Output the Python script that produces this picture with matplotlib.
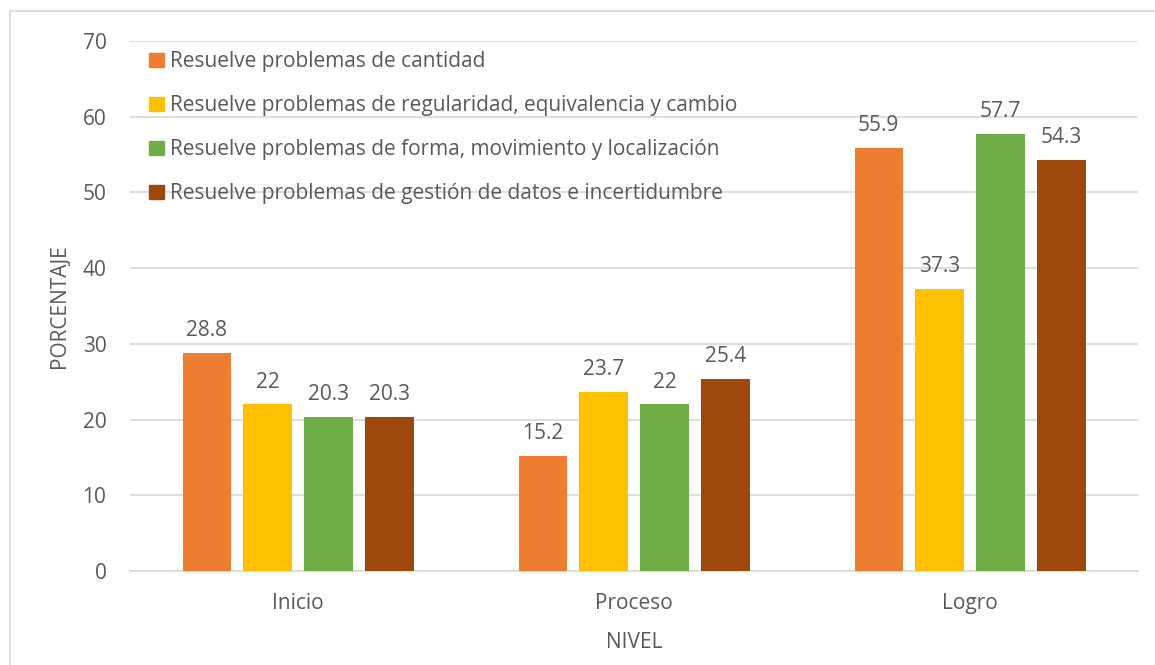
import matplotlib
matplotlib.use("Agg")
import matplotlib.pyplot as plt
from matplotlib.patches import Rectangle, Patch
import numpy as np

categories = ["Inicio", "Proceso", "Logro"]
series_names = [
    "Resuelve problemas de cantidad",
    "Resuelve problemas de regularidad, equivalencia y cambio",
    "Resuelve problemas de forma, movimiento y localización",
    "Resuelve problemas de gestión de datos e incertidumbre",
]
cantidad = [28.8, 15.2, 55.9]
regularidad = [22, 23.7, 37.3]
forma = [20.3, 22, 57.7]
gestion = [20.3, 25.4, 54.3]
series_values = [cantidad, regularidad, forma, gestion]
colors = ["#ED7D31", "#FFC000", "#70AD47", "#9E480E"]
yticks = [0, 10, 20, 30, 40, 50, 60, 70]

plt.rcParams['font.family'] = ['Open Sans', 'DejaVu Sans']
TXT = "#595959"
FS = 15

fig = plt.figure(figsize=(11.55, 6.65), dpi=100)
fig.patches.append(Rectangle((10/1155, -0.1), 1.2, 1 - 11/665 + 0.1,
                             transform=fig.transFigure, fill=False,
                             edgecolor="#D9D9D9", linewidth=1.2))
ax = fig.add_axes([130/1155, 1 - 571/665, 1008/1155, 530/665])

x = np.arange(len(categories))
step = 0.1815
width = 0.143
for i, (vals, c) in enumerate(zip(series_values, colors)):
    pos = x + (i - 1.5) * step
    bars = ax.bar(pos, vals, width=width, color=c, label=series_names[i], zorder=3)
    for b, v in zip(bars, vals):
        ax.annotate(f"{v:g}", (b.get_x() + b.get_width() / 2, v),
                    xytext=(0, 8.5), textcoords="offset points",
                    ha="center", va="bottom", fontsize=FS, color=TXT)

ax.set_xlim(-0.5, 2.5)
ax.set_ylim(0, 70)
ax.set_yticks(yticks)
ax.set_xticks(x)
ax.set_xticklabels(categories)
ax.tick_params(axis="both", length=0, labelsize=FS, colors=TXT)
ax.tick_params(axis="y", pad=17)
ax.tick_params(axis="x", pad=16)
ax.yaxis.grid(True, color="#D9D9D9", linewidth=1.2, zorder=0)
for s in ["top", "right", "left"]:
    ax.spines[s].set_visible(False)
ax.spines["bottom"].set_color("#D9D9D9")
ax.spines["bottom"].set_linewidth(1.2)
ax.set_axisbelow(True)

ax.set_ylabel("PORCENTAJE", fontsize=FS, color=TXT, labelpad=9)
ax.set_xlabel("NIVEL", fontsize=FS, color=TXT, labelpad=13)

handles = [Patch(color=c) for c in colors]
leg = ax.legend(handles, series_names, loc="upper left",
                bbox_to_anchor=(0.009, 1.0), frameon=False, fontsize=FS,
                handlelength=0.68, handleheight=0.68, handletextpad=0.3,
                labelspacing=1.1, borderpad=0)
for t in leg.get_texts():
    t.set_color(TXT)

fig.savefig("out.png", dpi=100)
